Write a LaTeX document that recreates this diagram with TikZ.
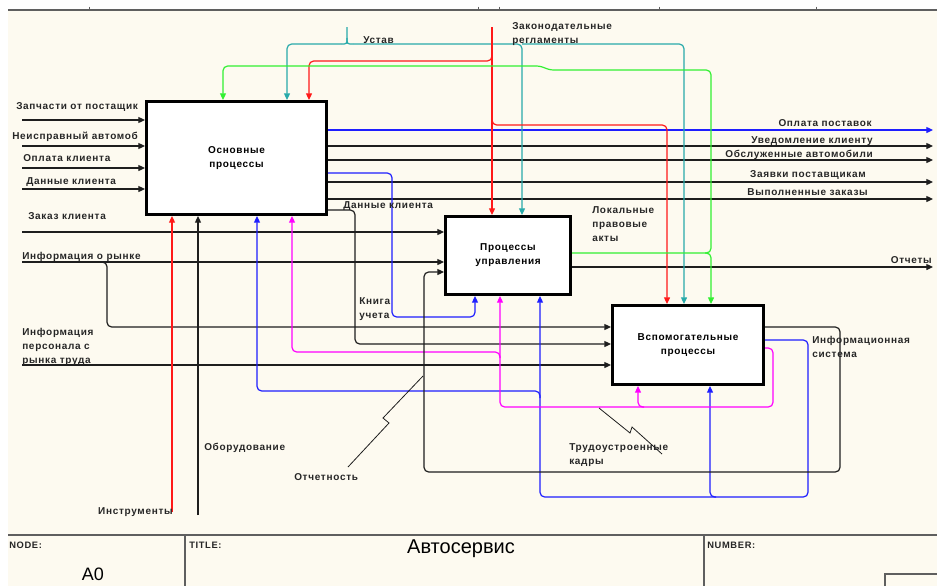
\documentclass[tikz,border=0pt]{standalone}
\usepackage{fontspec}
\setmainfont{Liberation Sans}
\newfontfamily\idef[LetterSpace=7]{Liberation Sans}
\usetikzlibrary{arrows.meta,calc}

\definecolor{paper}{RGB}{253,250,240}
\definecolor{frame}{RGB}{95,95,95}
\definecolor{ared}{RGB}{255,25,25}
\definecolor{ateal}{RGB}{40,170,170}
\definecolor{agreen}{RGB}{50,240,50}
\definecolor{ablue}{RGB}{30,30,255}
\definecolor{amag}{RGB}{255,0,255}
\definecolor{aline}{RGB}{30,30,30}

\begin{document}
\begin{tikzpicture}[
    x=0.75pt, y=-0.75pt,
    arr/.style={aline, line width=0.9pt, rounded corners=3.5pt, -{Triangle[length=5pt,width=4.5pt]}},
    plain/.style={aline, line width=0.9pt},
    leader/.style={aline, line width=0.6pt},
    activity/.style={draw=black, line width=2.25pt, fill=white, align=center, inner sep=0pt,
        font=\idef\bfseries\fontsize{7.5}{10.5}\selectfont},
    lbl/.style={inner sep=0pt, align=left, text=black!85, font=\idef\bfseries\fontsize{7.5}{10.5}\selectfont},
    hdr/.style={inner sep=0pt, text=black!85, font=\idef\bfseries\fontsize{7}{9}\selectfont}
    ]
    \useasboundingbox (0,0) rectangle (937,586);
    \fill[paper] (8,10) rectangle (937,586);
    \draw[frame, line width=1.5pt] (8,10) -- (937,10);
    \draw[frame, line width=0.75pt] (89,6.5) -- (89,9) (478,6.5) -- (478,9) (499,6.5) -- (499,9)
        (659,6.5) -- (659,9) (816,6.5) -- (816,9);

    % activities
    \node[activity, minimum width=135pt, minimum height=84.75pt] (main) at (236.5,158) {Основные\\процессы};
    \node[activity, minimum width=93.75pt, minimum height=58.5pt] (ctrl) at (508,255.5) {Процессы\\управления};
    \node[activity, minimum width=113.25pt, minimum height=59.25pt] (aux) at (688,345) {Вспомогательные\\процессы};

    % boundary ends
    \coordinate (zap) at (22,120);
    \coordinate (neis) at (22,146);
    \coordinate (oplk) at (22,168);
    \coordinate (dank) at (22,189);
    \coordinate (zakaz) at (22,232);
    \coordinate (rynok) at (22,262);
    \coordinate (pers) at (22,365);
    \coordinate (oplp) at (933,130);
    \coordinate (uved) at (933,146);
    \coordinate (obsl) at (933,160);
    \coordinate (zayav) at (933,182);
    \coordinate (vyp) at (933,199);
    \coordinate (otch) at (933,267);
    \coordinate (tools) at (172,512);
    \coordinate (equip) at (198,515);
    \coordinate (ustav) at (347,27);
    \coordinate (zakon) at (492,27);

    % inputs
    \draw[arr] (zap) -- (zap -| main.west);
    \draw[arr] (neis) -- (neis -| main.west);
    \draw[arr] (oplk) -- (oplk -| main.west);
    \draw[arr] (dank) -- (dank -| main.west);
    \draw[arr] (zakaz) -- (zakaz -| ctrl.west);
    \draw[arr] (rynok) -- (rynok -| ctrl.west);
    \draw[arr] (100,262) -- (107,262) -- (107,327) -- (107,327 -| aux.west);
    \draw[arr] (pers) -- (pers -| aux.west);

    % outputs
    \draw[arr, ablue] (main.east |- 0,130) -- (oplp);
    \draw[arr] (main.east |- 0,146) -- (uved);
    \draw[arr] (main.east |- 0,160) -- (obsl);
    \draw[arr] (main.east |- 0,182) -- (zayav);
    \draw[arr] (main.east |- 0,199) -- (vyp);
    \draw[arr] (ctrl.east |- 0,267) -- (otch);
    \draw[arr] (main.east |- 0,210) -- (355,210) -- (355,344) -- (355,344 -| aux.west);
    \draw[arr, ablue] (main.east |- 0,173) -- (392,173) -- (392,317) -- (475,317) -- (475,317 |- ctrl.south);

    % controls
    \draw[plain, ateal] (ustav) -- (347,38) .. controls (347,44) .. (341,44);
    \draw[plain, ateal] (347,38) .. controls (347,44) .. (353,44);
    \draw[arr, ateal] (341,44) -- (287,44) -- (287,44 |- main.north);
    \draw[arr, ateal] (353,44) -- (522,44) -- (522,44 |- ctrl.north);
    \draw[arr, ateal] (522,44) -- (684,44) -- (684,44 |- aux.north);
    \draw[arr, ared] (zakon) -- (zakon |- ctrl.north);
    \draw[arr, ared] (492,50) -- (492,61) -- (309,61) -- (309,61 |- main.north);
    \draw[arr, ared] (492,115) -- (492,125) -- (667,125) -- (667,125 |- aux.north);
    \draw[arr, agreen] (ctrl.east |- 0,253) -- (711,253) -- (711,253 |- aux.north);
    \draw[arr, agreen] (705,253) -- (711,253) -- (711,70) -- (549,70) -- (541,66) -- (223,66) -- (223,66 |- main.north);

    % mechanisms
    \draw[arr, ared] (tools) -- (tools |- main.south);
    \draw[arr] (equip) -- (equip |- main.south);
    \draw[arr, ablue] (aux.east |- 0,340) -- (808,340) -- (808,497) -- (540,497) -- (540,497 |- ctrl.south);
    \draw[arr, ablue] (716,497) -- (710,497) -- (710,497 |- aux.south);
    \draw[arr, ablue] (540,398) -- (540,391) -- (257,391) -- (257,391 |- main.south);
    \draw[arr, amag] (aux.east |- 0,348) -- (773,348) -- (773,407) -- (500,407) -- (500,407 |- ctrl.south);
    \draw[arr, amag] (644,407) -- (638,407) -- (638,407 |- aux.south);
    \draw[arr, amag] (500,358) -- (500,352) -- (292,352) -- (292,352 |- main.south);
    \draw[arr] (aux.east |- 0,327) -- (840,327) -- (840,472) -- (424,472) -- (424,272) -- (424,272 -| ctrl.west);

    % squiggles
    \coordinate (otchtip) at (423,376);
    \coordinate (kadrtip) at (599,408);
    \draw[leader] (otchtip) -- (383,418) -- (389,423) -- (348,467);
    \draw[leader] (kadrtip) -- (630,433) -- (632,427) -- (662,454);

    % labels
    \node[lbl, anchor=base west] (lzap) at (16,109) {Запчасти от постащик};
    \node[lbl, anchor=base west] (lneis) at (12,139) {Неисправный автомоб};
    \node[lbl, anchor=base west] (loplk) at (23,161) {Оплата клиента};
    \node[lbl, anchor=base west] (ldank) at (26,184) {Данные клиента};
    \node[lbl, anchor=base west] (lzakaz) at (28,219) {Заказ клиента};
    \node[lbl, anchor=base west] (lrynok) at (22,259) {Информация о рынке};
    \node[lbl, anchor=base west] (lpers) at (22,363) {Информация\\персонала с\\рынка труда};
    \node[lbl, anchor=base east] (ltools) at (173,514) {Инструменты};
    \node[lbl, anchor=base west] (lequip) at (204,450) {Оборудование};
    \node[lbl, anchor=base west] (lotchn) at (294,480) {Отчетность};
    \node[lbl, anchor=base west] (lkniga) at (359,318) {Книга\\учета};
    \node[lbl, anchor=base west] (ldank2) at (343,208) {Данные клиента};
    \node[lbl, anchor=base west] (lustav) at (363,43) {Устав};
    \node[lbl, anchor=base west] (lzakon) at (512,43) {Законодательные\\регламенты};
    \node[lbl, anchor=base east] (loplp) at (872,126) {Оплата поставок};
    \node[lbl, anchor=base east] (luved) at (873,143) {Уведомление клиенту};
    \node[lbl, anchor=base east] (lobsl) at (873,157) {Обслуженные автомобили};
    \node[lbl, anchor=base east] (lzayav) at (866,177) {Заявки поставщикам};
    \node[lbl, anchor=base east] (lvyp) at (868,195) {Выполненные заказы};
    \node[lbl, anchor=base west] (lakty) at (592,241) {Локальные\\правовые\\акты};
    \node[lbl, anchor=base east] (lotch) at (932,263) {Отчеты};
    \node[lbl, anchor=base west] (linfs) at (812,357) {Информационная\\система};
    \node[lbl, anchor=base west] (lkadr) at (569,464) {Трудоустроенные\\кадры};

    % title block
    \draw[frame, line width=1.5pt] (8,535) -- (937,535);
    \draw[frame, line width=1.5pt] (185,535) -- (185,586) (704,535) -- (704,586);
    \draw[frame, line width=1pt] (885,586) -- (885,574) -- (937,574);
    \node[hdr, anchor=base west] (nodehdr) at (9,548) {NODE:};
    \node[hdr, anchor=base west] (titlehdr) at (189,548) {TITLE:};
    \node[hdr, anchor=base west] (numhdr) at (707,548) {NUMBER:};
    \node[inner sep=0pt, anchor=base, font=\fontsize{13.5}{16}\selectfont] (nodeno) at (93,580) {A0};
    \node[inner sep=0pt, anchor=base, font=\fontsize{15}{18}\selectfont] (title) at (461,553) {Автосервис};
\end{tikzpicture}
\end{document}
